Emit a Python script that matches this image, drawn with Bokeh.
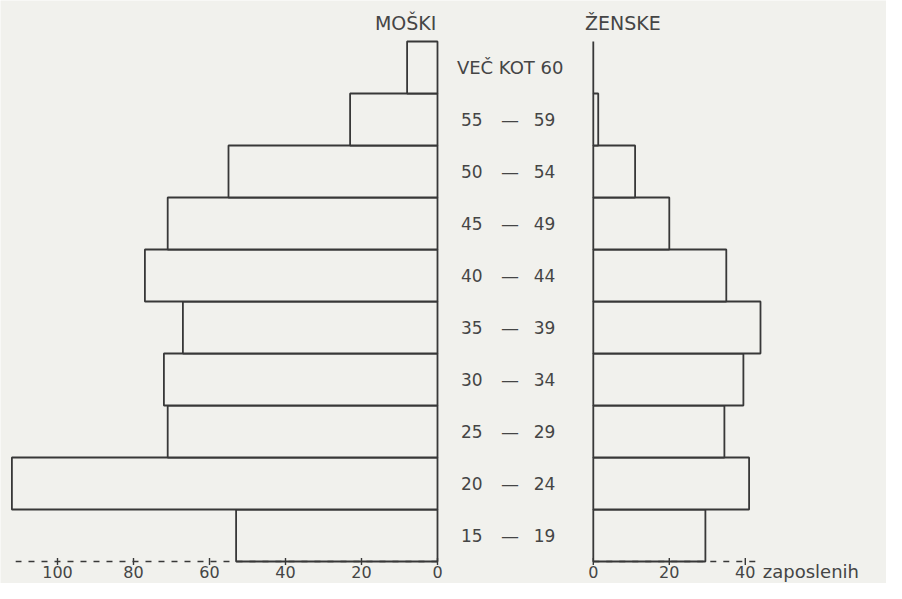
import math
from bokeh.plotting import figure
from bokeh.models import Range1d
from bokeh.core.properties import value
from bokeh.embed import file_html
from bokeh.resources import INLINE

# ---- data ----
age_groups = ["15 — 19", "20 — 24", "25 — 29", "30 — 34", "35 — 39",
              "40 — 44", "45 — 49", "50 — 54", "55 — 59", "VEČ KOT 60"]
men = [53, 112, 71, 72, 67, 77, 71, 55, 23, 8]
women = [29.5, 41, 34.5, 39.5, 44, 35, 20, 11, 1.3, 0]
men_ticks = [0, 20, 40, 60, 80, 100]
women_ticks = [0, 20, 40]
men_title = "MOŠKI"
women_title = "ŽENSKE"
unit_label = "zaposlenih"

# ---- layout constants ----
HALF = 20.5            # half the gap between the two zero lines (data units)
MEN_AXIS_END = 111
WOMEN_AXIS_END = 44
BASE = -0.5            # base line of the bars
TICK_LABEL_Y = -0.695  # centre line of the tick labels
FONT = value("DejaVu Sans")
INK = "#383838"
TXT = "#454545"
PAPER = "#f1f1ed"

p = figure(width=886, height=583, output_backend="svg", toolbar_location=None,
           x_range=Range1d(-135.5, 97.66), y_range=Range1d(-0.923, 10.288),
           min_border=0)
p.background_fill_color = PAPER
p.border_fill_color = PAPER
p.outline_line_color = None
p.grid.visible = False
p.axis.visible = False

ys = list(range(len(age_groups)))

# men bars (to the left)
p.quad(left=[-HALF - v for v in men], right=[-HALF] * len(men),
       bottom=[y - 0.5 for y in ys], top=[y + 0.5 for y in ys],
       fill_color=PAPER, line_color=INK, line_width=1.8)
# women bars (to the right)
p.quad(left=[HALF] * len(women), right=[HALF + v for v in women],
       bottom=[y - 0.5 for y in ys], top=[y + 0.5 for y in ys],
       fill_color=PAPER, line_color=INK, line_width=1.8)

# dashed base lines
p.segment(x0=[-HALF, HALF], y0=[BASE, BASE],
          x1=[-HALF - MEN_AXIS_END, HALF + WOMEN_AXIS_END], y1=[BASE, BASE],
          line_color=INK, line_width=1.4, line_dash="6 7")

# tick marks and tick labels
tick_pos = [-HALF - v for v in men_ticks] + [HALF + v for v in women_ticks]
tick_lab = [str(v) for v in men_ticks] + [str(v) for v in women_ticks]
p.scatter(x=tick_pos, y=[BASE] * len(tick_pos), marker="dash", angle=math.pi / 2,
          size=7, line_color=INK, line_width=1.4)
p.text(x=tick_pos, y=[TICK_LABEL_Y] * len(tick_pos), text=tick_lab,
       text_font=FONT, text_font_size="16px", text_color=TXT,
       text_align="center", text_baseline="middle")
p.text(x=[HALF + 44.6], y=[TICK_LABEL_Y], text=[unit_label],
       text_font=FONT, text_font_size="18px", text_color=TXT,
       text_align="left", text_baseline="middle")

# age labels in the middle
lo, dash, hi, single = [], [], [], []
for y, g in zip(ys, age_groups):
    parts = g.split(" — ")
    if len(parts) == 2:
        lo.append((y, parts[0])); hi.append((y, parts[1])); dash.append(y)
    else:
        single.append((y, g))
p.text(x=[-14.3] * len(lo), y=[a for a, _ in lo], text=[b for _, b in lo],
       text_font=FONT, text_font_size="17px", text_color=TXT,
       text_align="left", text_baseline="middle")
p.text(x=[-1.4] * len(dash), y=dash, text=["—"] * len(dash),
       text_font=FONT, text_font_size="18px", text_color=TXT,
       text_align="center", text_baseline="middle")
p.text(x=[4.8] * len(hi), y=[a for a, _ in hi], text=[b for _, b in hi],
       text_font=FONT, text_font_size="17px", text_color=TXT,
       text_align="left", text_baseline="middle")
p.text(x=[-15.4] * len(single), y=[a for a, _ in single], text=[b for _, b in single],
       text_font=FONT, text_font_size="18px", text_color=TXT,
       text_align="left", text_baseline="middle")

# titles
p.text(x=[-HALF - 0.3], y=[9.85], text=[men_title], text_font=FONT,
       text_font_size="19px", text_color=TXT, text_align="right",
       text_baseline="middle")
p.text(x=[HALF - 2.2], y=[9.85], text=[women_title], text_font=FONT,
       text_font_size="19px", text_color=TXT, text_align="left",
       text_baseline="middle")

open("out.html", "w").write(file_html(p, INLINE))
